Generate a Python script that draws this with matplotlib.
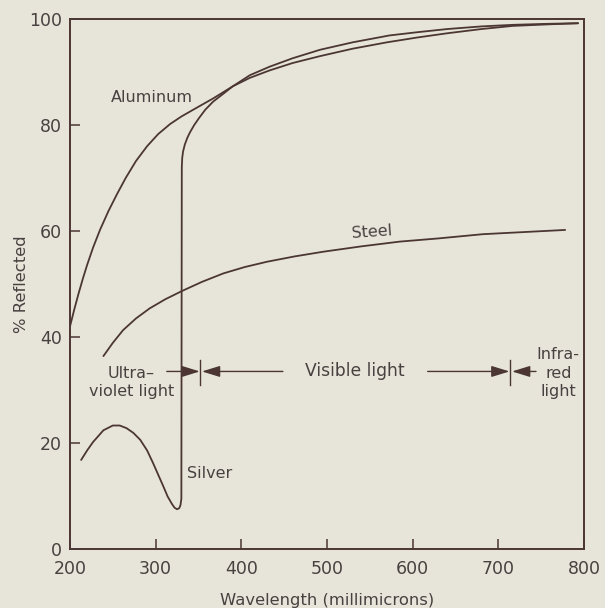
import matplotlib
matplotlib.use("Agg")
import matplotlib.pyplot as plt

# Reflectance curves (wavelength in millimicrons, % reflected)
aluminum_nm = [200, 205, 210, 215, 220, 227, 235, 245, 255, 265, 277, 290, 303, 317,
               330, 344, 356, 367, 379, 390, 410, 433, 460, 492, 530, 570, 605, 640,
               680, 717, 760, 793]
aluminum_pct = [42.0, 45.2, 48.2, 51.0, 53.6, 56.9, 60.2, 63.8, 67.0, 70.0, 73.2, 76.0,
                78.3, 80.2, 81.6, 82.9, 84.0, 85.0, 86.2, 87.3, 88.9, 90.3, 91.7, 93.0,
                94.4, 95.6, 96.5, 97.3, 98.1, 98.7, 99.0, 99.2]

silver_nm = [213, 220, 227, 239, 250, 258, 266, 274, 282, 290, 297, 303, 309, 314, 319,
             322, 325, 327.5, 329, 330, 330.5, 331, 332, 334, 337, 340, 345, 351, 358,
             367, 379, 390, 410, 433, 460, 492, 530, 573, 605, 640, 680, 717, 760, 793]
silver_pct = [16.8, 18.6, 20.2, 22.4, 23.3, 23.3, 22.8, 21.9, 20.6, 18.6, 16.2, 14.0,
              11.8, 9.9, 8.5, 7.8, 7.5, 7.7, 8.3, 9.5, 72.0, 73.8, 75.0, 76.3, 77.6,
              78.6, 80.0, 81.4, 82.9, 84.4, 85.9, 87.3, 89.4, 91.0, 92.6, 94.2, 95.6,
              96.9, 97.5, 98.1, 98.6, 98.9, 99.1, 99.2]

steel_nm = [239, 250, 262, 277, 293, 311, 331, 354, 379, 404, 430, 462, 496, 540, 585,
            630, 682, 730, 778]
steel_pct = [36.4, 38.9, 41.3, 43.5, 45.4, 47.1, 48.7, 50.4, 52.0, 53.2, 54.2, 55.2,
             56.1, 57.1, 58.0, 58.6, 59.4, 59.8, 60.2]

# Spectrum band boundaries and the level of the band arrows
band_edges = [352, 714]
band_level = 33.5

x_ticks = [200, 300, 400, 500, 600, 700, 800]
y_ticks = [0, 20, 40, 60, 80, 100]

bg = "#e7e5da"
ink = "#4b3634"
txt = "#484140"

plt.rcParams["font.family"] = ["DejaVu Sans"]

fig = plt.figure(figsize=(6.05, 6.08), dpi=100, facecolor=bg)
ax = fig.add_axes([70 / 605, 1 - 549 / 608, 514 / 605, 530 / 608], facecolor=bg)

lw = 1.3
ax.plot(aluminum_nm, aluminum_pct, color=ink, lw=lw, solid_capstyle="round",
        solid_joinstyle="round")
ax.plot(silver_nm, silver_pct, color=ink, lw=lw, solid_capstyle="round",
        solid_joinstyle="round")
ax.plot(steel_nm, steel_pct, color=ink, lw=lw, solid_capstyle="round",
        solid_joinstyle="round")

ax.set_xlim(200, 800)
ax.set_ylim(0, 100)
ax.set_xticks(x_ticks)
ax.set_yticks(y_ticks)
ax.tick_params(direction="in", length=7, width=1.1, color=ink, labelcolor=txt,
               labelsize=12.5)
ax.tick_params(axis="x", pad=8)
ax.tick_params(axis="y", pad=6)
for s in ax.spines.values():
    s.set_color(ink)
    s.set_linewidth(1.4)

ax.set_xlabel("Wavelength (millimicrons)", fontsize=11.8, color=txt, labelpad=11)
ax.set_ylabel("% Reflected", fontsize=11.8, color=txt, labelpad=0)

# Curve labels
lab = dict(color=txt, fontsize=11.5)
ax.text(295.5, 85.2, "Aluminum", ha="center", va="center", **lab)
ax.text(553, 59.8, "Steel", ha="center", va="center", rotation=4, **lab)
ax.text(336.5, 14.3, "Silver", ha="left", va="center", **lab)

# Spectrum bands
ax.text(271.5, 31.5, "Ultra\u2013\nviolet light", ha="center", va="center",
        linespacing=1.25, **lab)
ax.text(532.5, band_level, "Visible light", ha="center", va="center", color=txt,
        fontsize=12.3)
ax.text(770, 33.2, "Infra-\nred\nlight", ha="center", va="center",
        linespacing=1.3, **lab)

arrow = dict(arrowstyle="-|>,head_length=0.55,head_width=0.17", color=ink, lw=1.0,
             shrinkA=0, shrinkB=0, mutation_scale=20)
ax.annotate("", xy=(band_edges[0] - 0.5, band_level), xytext=(313, band_level),
            arrowprops=arrow)
ax.annotate("", xy=(band_edges[0] + 2, band_level), xytext=(448.5, band_level),
            arrowprops=arrow)
ax.annotate("", xy=(band_edges[1] - 1, band_level), xytext=(617.5, band_level),
            arrowprops=arrow)
ax.annotate("", xy=(band_edges[1] + 2, band_level), xytext=(744, band_level),
            arrowprops=arrow)
for e in band_edges:
    ax.plot([e, e], [30.9, 35.6], color=ink, lw=1.0)

fig.savefig("out.png", dpi=100, facecolor=bg)
